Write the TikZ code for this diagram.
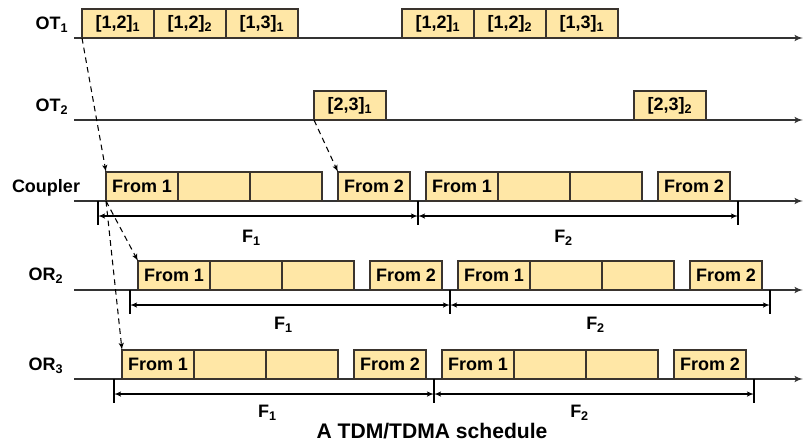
\documentclass[tikz,border=0pt]{standalone}
\usepackage{fontspec}
\setmainfont{Liberation Sans}
\usepackage{tikz}
\usetikzlibrary{arrows,positioning}

\definecolor{slotfill}{RGB}{255,231,166}
\definecolor{slotedge}{RGB}{58,52,46}

\begin{document}
\begin{tikzpicture}[x=0.025cm,y=-0.025cm,>=latex',node distance=0pt,
                    font=\bfseries\fontsize{12.8}{15}\selectfont,
                    slot/.style={rectangle,draw=slotedge,fill=slotfill,line width=1.1pt,
                                 minimum width=1.8cm,minimum height=0.725cm,
                                 inner sep=0pt,outer sep=0pt},
                    axis/.style={->,draw=black!80,line width=1.1pt},
                    hop/.style={->,dashed,dash pattern=on 4pt off 3pt,line width=0.75pt},
                    dim/.style={<->,line width=0.75pt},
                    tick/.style={line width=0.75pt}]

  \useasboundingbox (0,0) rectangle (803,443);

  % time lines
  \draw[axis] (74,38)  -- (803,38);
  \draw[axis] (74,120) -- (803,120);
  \draw[axis] (74,201) -- (803,201);
  \draw[axis] (74,290) -- (803,290);
  \draw[axis] (74,379) -- (803,379);

  \node (lot1) at (52,25)  {OT\textsubscript{1}};
  \node (lot2) at (52,107) {OT\textsubscript{2}};
  \node (lcp)  at (46,188) {Coupler};
  \node (lor2) at (46,276) {OR\textsubscript{2}};
  \node (lor3) at (46,366) {OR\textsubscript{3}};

  % OT1
  \node[slot,anchor=south west] (t11) at (82,38)  {[1,2]\textsubscript{1}};
  \node[slot]  (t12) [right=of t11] {[1,2]\textsubscript{2}};
  \node[slot]  (t13) [right=of t12] {[1,3]\textsubscript{1}};
  \node[slot,anchor=south west] (t14) at (402,38) {[1,2]\textsubscript{1}};
  \node[slot]  (t15) [right=of t14] {[1,2]\textsubscript{2}};
  \node[slot]  (t16) [right=of t15] {[1,3]\textsubscript{1}};

  % OT2
  \node[slot,anchor=south west] (t21) at (314,120) {[2,3]\textsubscript{1}};
  \node[slot,anchor=south west] (t22) at (634,120) {[2,3]\textsubscript{2}};

  % Coupler
  \node[slot,anchor=south west] (c1) at (106,201) {From 1};
  \node[slot]  (c2) [right=of c1] {};
  \node[slot]  (c3) [right=of c2] {};
  \node[slot,anchor=south west] (c4) at (338,201) {From 2};
  \node[slot,anchor=south west] (c5) at (426,201) {From 1};
  \node[slot]  (c6) [right=of c5] {};
  \node[slot]  (c7) [right=of c6] {};
  \node[slot,anchor=south west] (c8) at (658,201) {From 2};

  % OR2
  \node[slot,anchor=south west] (r1) at (138,290) {From 1};
  \node[slot]  (r2) [right=of r1] {};
  \node[slot]  (r3) [right=of r2] {};
  \node[slot,anchor=south west] (r4) at (370,290) {From 2};
  \node[slot,anchor=south west] (r5) at (458,290) {From 1};
  \node[slot]  (r6) [right=of r5] {};
  \node[slot]  (r7) [right=of r6] {};
  \node[slot,anchor=south west] (r8) at (690,290) {From 2};

  % OR3
  \node[slot,anchor=south west] (s1) at (122,379) {From 1};
  \node[slot]  (s2) [right=of s1] {};
  \node[slot]  (s3) [right=of s2] {};
  \node[slot,anchor=south west] (s4) at (354,379) {From 2};
  \node[slot,anchor=south west] (s5) at (442,379) {From 1};
  \node[slot]  (s6) [right=of s5] {};
  \node[slot]  (s7) [right=of s6] {};
  \node[slot,anchor=south west] (s8) at (674,379) {From 2};

  % frames
  \coordinate (cf0) at (98,216);  \coordinate (cf1) at (418,216);  \coordinate (cf2) at (738,216);
  \coordinate (rf0) at (130,305); \coordinate (rf1) at (450,305);  \coordinate (rf2) at (770,305);
  \coordinate (sf0) at (114,394); \coordinate (sf1) at (434,394);  \coordinate (sf2) at (754,394);

  \draw[tick] (cf0) +(0,-15) -- +(0,9)  (cf1) +(0,-15) -- +(0,9)  (cf2) +(0,-15) -- +(0,9);
  \draw[tick] (rf0) +(0,-15) -- +(0,9)  (rf1) +(0,-15) -- +(0,9)  (rf2) +(0,-15) -- +(0,9);
  \draw[tick] (sf0) +(0,-15) -- +(0,9)  (sf1) +(0,-15) -- +(0,9)  (sf2) +(0,-15) -- +(0,9);

  \path (cf0) edge[dim] node[pos=0.48,yshift=-0.55cm] {F\textsubscript{1}} (cf1)
        (cf1) edge[dim] node[pos=0.455,yshift=-0.55cm] {F\textsubscript{2}} (cf2)
        (rf0) edge[dim] node[pos=0.48,yshift=-0.5cm] {F\textsubscript{1}} (rf1)
        (rf1) edge[dim] node[pos=0.455,yshift=-0.5cm] {F\textsubscript{2}} (rf2)
        (sf0) edge[dim] node[pos=0.48,yshift=-0.48cm] {F\textsubscript{1}} (sf1)
        (sf1) edge[dim] node[pos=0.455,yshift=-0.48cm] {F\textsubscript{2}} (sf2);

  % hops
  \path (t11.south west) edge[hop] (c1.north west)
        (t21.south west) edge[hop] (c4.north west)
        (c1.south west)  edge[hop] (r1.north west)
                         edge[hop] (s1.north west);

  \node[font=\bfseries\fontsize{15}{17}\selectfont] (title) at (432,431) {A TDM/TDMA schedule};
\end{tikzpicture}
\end{document}
